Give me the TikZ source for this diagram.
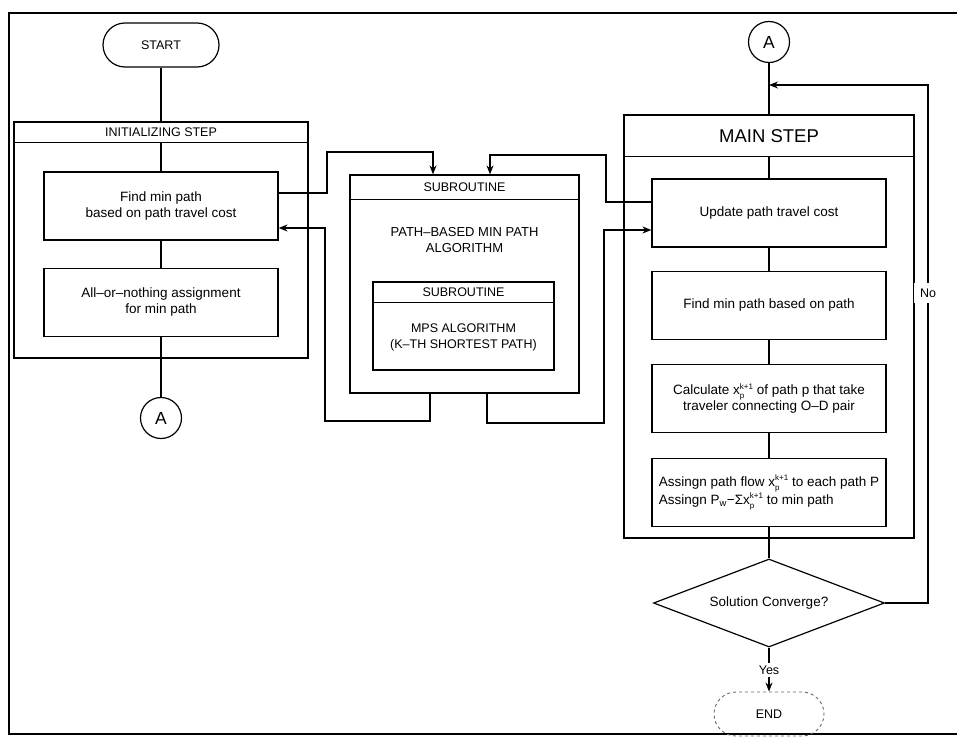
\documentclass[tikz,border=0pt]{standalone}
\usepackage{fontspec}
\setmainfont{Liberation Sans}
\usetikzlibrary{shapes.geometric,arrows.meta}
\newcommand{\xpk}{x\rlap{\raisebox{-4.2pt}{\fontsize{8}{9}\selectfont p}}\raisebox{5.2pt}{\fontsize{8}{9}\selectfont k+1}}

\begin{document}
\begin{tikzpicture}[x=1pt, y=-1pt, >={Stealth[length=9pt,width=7pt]}, line width=1.2pt,
  box/.style={draw, rectangle, minimum width=234pt, minimum height=68pt, inner sep=0pt, align=center, font=\fontsize{13.5}{16}\selectfont},
  panel/.style={draw, rectangle, inner sep=0pt},
  head/.style={font=\fontsize{12.5}{15}\selectfont},
  term/.style={draw, rectangle, rounded corners=22pt, minimum height=44pt, font=\fontsize{12.5}{15}\selectfont},
  conn/.style={draw, circle, minimum size=41pt, inner sep=0pt, font=\fontsize{17.5}{20}\selectfont},
  decide/.style={draw, diamond, aspect=2.6, minimum width=231pt, minimum height=88pt, inner sep=0pt, font=\fontsize{13.5}{16}\selectfont}]

\useasboundingbox (0,0) rectangle (957,741);

% Page frame
\draw[line width=1.5pt] (9,13) rectangle (975,734);

% Initializing step
\node[term, minimum width=116pt] (start) at (161,45) {START};
\node[panel, minimum width=294pt, minimum height=236pt] (init) at (161,240) {};
\draw ([yshift=-21pt]init.north west) -- ([yshift=-21pt]init.north east);
\node[head] (inithead) at (161,132.5) {INITIALIZING STEP};
\node[box] (find) at (161,206) {Find min path\\based on path travel cost};
\node[box] (aon) at (161,302.5) {All--or--nothing assignment\\for min path};
\node[conn] (a1) at (161,418) {A};

\draw (start) -- (init.north);
\draw ([yshift=-21pt]init.north) -- (find);
\draw (find) -- (aon);
\draw (aon) -- (a1);

% Subroutines
\node[panel, minimum width=229pt, minimum height=218pt] (sub) at (464.5,284) {};
\draw ([yshift=-25pt]sub.north west) -- ([yshift=-25pt]sub.north east);
\node[head] (subhead) at (464.5,187.5) {SUBROUTINE};
\node[align=center, font=\fontsize{13}{16}\selectfont] (subtext) at (464.5,240) {PATH--BASED MIN PATH\\ALGORITHM};
\node[panel, minimum width=181pt, minimum height=88pt] (mps) at (463.5,326) {};
\draw ([yshift=-21pt]mps.north west) -- ([yshift=-21pt]mps.north east);
\node[head] (mpshead) at (463.5,292.5) {SUBROUTINE};
\node[align=center, font=\fontsize{12.5}{16}\selectfont] (mpstext) at (463.5,337) {MPS ALGORITHM\\(K--TH SHORTEST PATH)};

% Main step
\node[conn] (a2) at (769,42) {A};
\node[panel, minimum width=290pt, minimum height=423pt] (main) at (769,326.5) {};
\draw ([yshift=-42pt]main.north west) -- ([yshift=-42pt]main.north east);
\node[font=\fontsize{18.5}{22}\selectfont] (mainhead) at (769,136) {MAIN STEP};
\node[box] (upd) at (769,213) {Update path travel cost};
\node[box] (fmp) at (769,305.5) {Find min path based on path};
\node[box, font=\fontsize{13.5}{16}\selectfont] (calc) at (769,398.5) {Calculate \xpk\ of path p that take\\traveler connecting O--D pair};
\node[box, align=left, font=\fontsize{13.5}{18}\selectfont] (asg) at (769,492.5) {Assingn path flow \xpk\ to each path P\\Assingn P\textsubscript{w}−Σ\xpk\ to min path};
\node[decide] (dia) at (769,603) {Solution Converge?};
\node[term, minimum width=110pt, draw=black!60, dashed, line width=0.9pt] (end) at (769,714) {END};

\draw (a2) -- (main);
\draw ([yshift=-42pt]main.north) -- (upd);
\draw (upd) -- (fmp);
\draw (fmp) -- (calc);
\draw (calc) -- (asg);
\draw (asg) -- (dia);

% Yes / No
\coordinate (back) at (769,85);
\coordinate (noturn) at (928,85);
\draw[->] (dia.east) -| (noturn) -- (back);
\node[fill=white, inner sep=6pt, font=\fontsize{12.5}{15}\selectfont] (no) at (928,293) {No};
\draw[->] (dia) -- (end);
\node[fill=white, inner sep=3pt, font=\fontsize{12.5}{15}\selectfont] (yes) at (769,670) {Yes};

% Links to subroutine
\draw[->] ([yshift=13pt]find.east) -| (327,152) -| ([xshift=-31.5pt]sub.north);
\draw[->] ([xshift=-34.5pt]sub.south) |- (325,421) |- ([yshift=-22pt]find.east);
\draw[->] ([yshift=11pt]upd.west) -| (606,155) -| ([xshift=25.5pt]sub.north);
\draw[->] ([xshift=22.5pt]sub.south) |- (604,423) |- ([yshift=-17pt]upd.west);

\end{tikzpicture}
\end{document}
